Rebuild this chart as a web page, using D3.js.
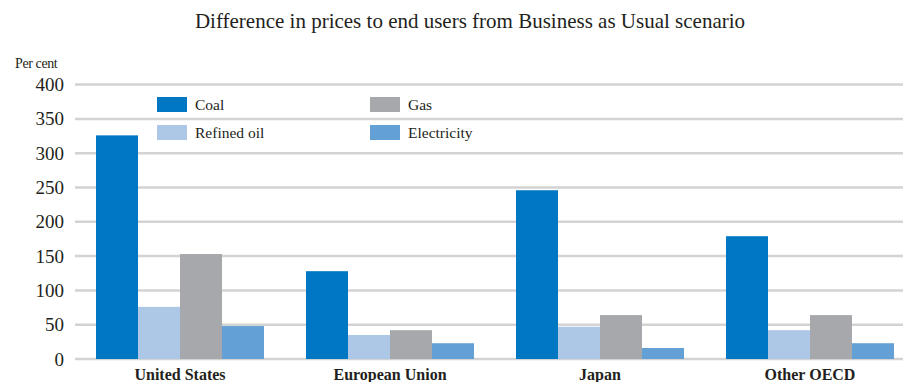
<!DOCTYPE html>
<html>
<head>
<meta charset="utf-8">
<script src="https://cdn.jsdelivr.net/npm/d3@7"></script>
<style>
  html, body { margin: 0; padding: 0; background: #fff; }
  svg { display: block; }
</style>
</head>
<body>
<svg id="chart" width="903" height="382"></svg>
<script>
// Regions and fuel series (per cent difference from Business as Usual)
const regions = ["United States", "European Union", "Japan", "Other OECD"];
const fuels = ["Coal", "Refined oil", "Gas", "Electricity"];
const coal = [326, 128, 246, 179];
const refinedOil = [76, 35, 47, 42];
const gas = [153, 42, 64, 64];
const electricity = [48, 23, 16, 23];
const yTicks = [0, 50, 100, 150, 200, 250, 300, 350, 400];

const colors = ["#0077c3", "#adc8e6", "#a7a8ab", "#62a0d6"];
const seriesValues = [coal, refinedOil, gas, electricity];
const FONT = "'Liberation Serif'";
const INK = "#231f20";

const svg = d3.select("#chart");

const plotLeft = 75, plotRight = 915;
const y = d3.scaleLinear().domain([0, 400]).range([359, 84.6]);
const x0 = d3.scaleBand().domain(regions).range([plotLeft, plotRight]).paddingInner(0.2).paddingOuter(0.1);
const x1 = d3.scaleBand().domain(fuels).range([0, x0.bandwidth()]);

// Title
svg.append("text")
  .attr("x", 470).attr("y", 28)
  .attr("text-anchor", "middle")
  .attr("font-size", 21)
  .attr("fill", INK)
  .style("font-family", FONT)
  .text("Difference in prices to end users from Business as Usual scenario");

// Unit label
svg.append("text")
  .attr("x", 15).attr("y", 68)
  .attr("font-size", 14)
  .attr("letter-spacing", -0.4)
  .attr("fill", INK)
  .style("font-family", FONT)
  .text("Per cent");

// Gridlines and y labels
const yAxis = d3.axisLeft(y).tickValues(yTicks).tickSize(0).tickPadding(11);
const gy = svg.append("g").attr("transform", `translate(${plotLeft},0)`).call(yAxis);
gy.select(".domain").remove();
gy.selectAll("text")
  .attr("font-size", 19)
  .attr("fill", INK)
  .style("font-family", FONT);

svg.append("g").selectAll("line")
  .data(yTicks)
  .join("line")
  .attr("x1", plotLeft).attr("x2", 903)
  .attr("y1", d => y(d)).attr("y2", d => y(d))
  .attr("stroke", "#d3d3d3")
  .attr("stroke-width", 2.5);

// Bars
const groups = svg.append("g").selectAll("g")
  .data(regions)
  .join("g")
  .attr("transform", d => `translate(${x0(d)},0)`);

groups.selectAll("rect")
  .data((d, i) => fuels.map((f, j) => ({ fuel: f, value: seriesValues[j][i], color: colors[j] })))
  .join("rect")
  .attr("x", d => x1(d.fuel))
  .attr("width", x1.bandwidth())
  .attr("y", d => y(d.value))
  .attr("height", d => y(0) - y(d.value))
  .attr("fill", d => d.color);

// Category labels
const xAxis = d3.axisBottom(x0).tickSize(0).tickPadding(0);
const gx = svg.append("g").attr("transform", "translate(0,366)").call(xAxis);
gx.select(".domain").remove();
gx.selectAll("text")
  .attr("font-size", 16)
  .attr("font-weight", "bold")
  .attr("fill", INK)
  .attr("dy", "0.9em")
  .style("font-family", FONT);

// Legend
const legendPos = [[157, 97], [157, 125], [370, 97], [370, 125]];
const legend = svg.append("g").selectAll("g")
  .data(fuels)
  .join("g")
  .attr("transform", (d, i) => `translate(${legendPos[i][0]},${legendPos[i][1]})`);
legend.append("rect")
  .attr("width", 30).attr("height", 15)
  .attr("fill", (d, i) => colors[i]);
legend.append("text")
  .attr("x", 38).attr("y", 12.5)
  .attr("font-size", 15.5)
  .attr("fill", INK)
  .style("font-family", FONT)
  .text(d => d);
</script>
</body>
</html>
